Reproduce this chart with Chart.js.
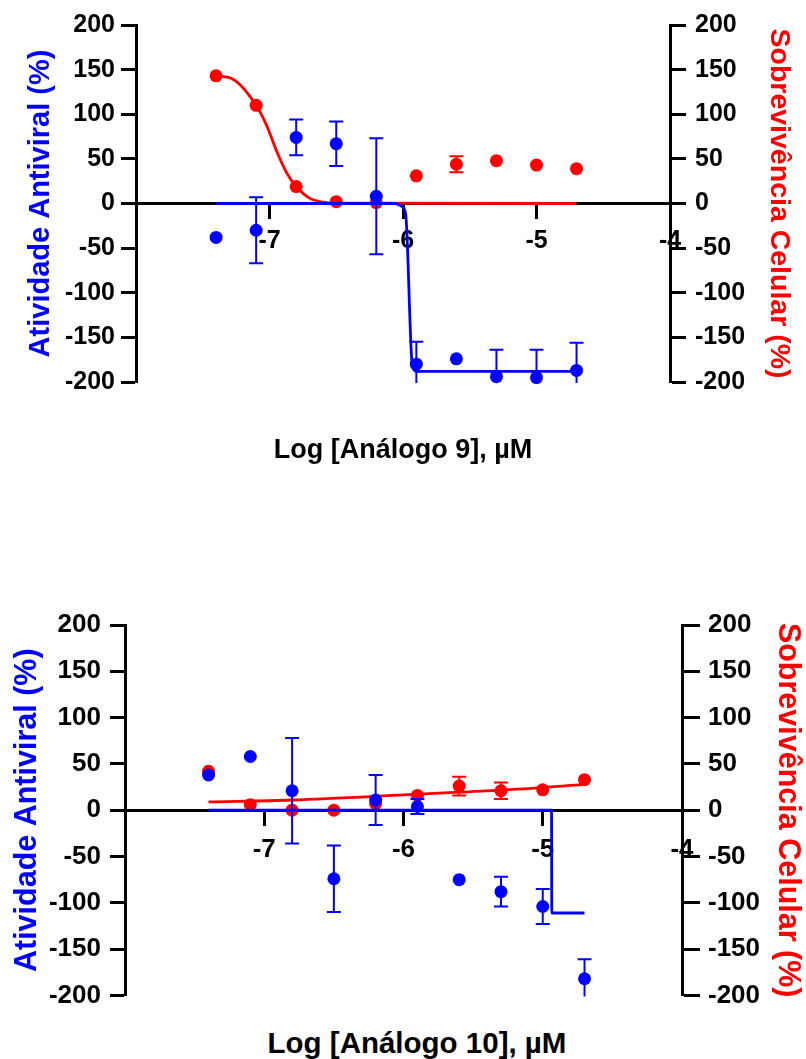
<!DOCTYPE html>
<html>
<head>
<meta charset="utf-8">
<script src="https://cdn.jsdelivr.net/npm/chart.js@4"></script>
<style>
body { margin: 0; background: #fff; width: 806px; height: 1059px; position: relative; overflow: hidden; font-family: "Liberation Sans", Arial, sans-serif; }
canvas { position: absolute; left: 0; }
#chart9 { top: 0; }
#chart10 { top: 590px; }
.xtitle { position: absolute; font-weight: bold; white-space: nowrap; transform: translate(-50%, -50%); color: #000; }
</style>
</head>
<body>
<canvas id="chart9" width="806" height="490"></canvas>
<canvas id="chart10" width="806" height="430"></canvas>
<div class="xtitle" style="left:403px;top:449px;font-size:27px">Log [Análogo 9], µM</div>
<div class="xtitle" style="left:417px;top:1043px;font-size:29.5px">Log [Análogo 10], µM</div>
<script>
const BLUE = "#0000ff";
const RED = "#ff0000";

// log concentrations (M) of the 2-fold dilution series
const logConc = [-7.4, -7.1, -6.8, -6.5, -6.2, -5.9, -5.6, -5.3, -5.0, -4.7];
const xTickValues = [-8, -7, -6, -5, -4];
const yTickValues = [-200, -150, -100, -50, 0, 50, 100, 150, 200];

// Análogo 9
const antiviral9 = [-38, -30, 74, 67, 8, -180, -174, -194, -195, -187];
const antiviralErr9 = [0, 37, 20, 25, 65, 25, 0, 30, 31, 31];
const survival9 = [143, 110, 19, 2, 1, 31, 44, 48, 43, 39];
const survivalErr9 = [0, 0, 0, 0, 0, 0, 9, 0, 0, 0];
const antiviralFitX9 = [-7.4, -6.06, -6.01, -5.98, -5.93, -5.90, -4.7];
const antiviralFitY9 = [0, 0, -3, -12, -182, -188, -188];
const survivalFitX9 = [-7.4, -7.27, -7.1, -7.02, -6.95, -6.87, -6.8, -6.7, -6.6, -6.5, -4.7];
const survivalFitY9 = [143, 139, 110, 87, 60, 34, 19, 6, 1.5, 0.5, 0];

// Análogo 10
const antiviral10 = [38, 58, 21, -74, 11, 4, -75, -88, -104, -182];
const antiviralErr10 = [0, 0, 57, 36, 27, 8, 0, 16, 19, 21];
const survival10 = [42, 6, 0, 0, 7, 16, 26, 21, 22, 33];
const survivalErr10 = [0, 0, 0, 0, 0, 0, 10, 9, 0, 0];
const antiviralFitX10 = [-7.4, -4.937, -4.935, -4.7];
const antiviralFitY10 = [0, 0, -111, -111];
const survivalFitX10 = [-7.4, -6.8, -6.0, -5.6, -5.0, -4.7];
const survivalFitY10 = [9, 11, 16.5, 19.5, 24.4, 28];

Chart.defaults.font.family = "'Liberation Sans', Arial, sans-serif";
Chart.defaults.font.weight = "bold";
Chart.defaults.color = "#000";

const toPoints = (xs, ys) => xs.map((x, i) => ({ x: x, y: ys[i] }));

const errorBars = {
    id: "errorBars",
    afterDatasetDraw(chart, args) {
        const ds = chart.data.datasets[args.index];
        if (!ds.errors) return;
        const ctx = chart.ctx;
        const area = chart.chartArea;
        const yScale = chart.scales[ds.yAxisID];
        ctx.save();
        ctx.beginPath();
        ctx.rect(area.left, area.top - 2, area.right - area.left, area.bottom - area.top + 3);
        ctx.clip();
        ctx.strokeStyle = ds.pointBackgroundColor;
        ctx.lineWidth = 2;
        ds.data.forEach((p, i) => {
            const e = ds.errors[i];
            if (!e) return;
            const x = chart.scales.x.getPixelForValue(p.x);
            const yTop = yScale.getPixelForValue(p.y + e);
            const yBot = yScale.getPixelForValue(p.y - e);
            ctx.beginPath();
            ctx.moveTo(x, yTop); ctx.lineTo(x, yBot);
            ctx.moveTo(x - 7, yTop); ctx.lineTo(x + 7, yTop);
            ctx.moveTo(x - 7, yBot); ctx.lineTo(x + 7, yBot);
            ctx.stroke();
        });
        ctx.restore();
    }
};

function makeChart(id, s) {
    const ctx = document.getElementById(id).getContext("2d");
    const tickFont = { size: s.tickSize, weight: "bold" };
    const yTicks = (scale) => { scale.ticks = yTickValues.map(v => ({ value: v })); };

    return new Chart(ctx, {
        type: "scatter",
        data: {
            datasets: [
                {
                    data: toPoints(logConc, s.antiviral), errors: s.antiviralErr, yAxisID: "y",
                    pointRadius: 6.5, pointBackgroundColor: BLUE, pointBorderWidth: 0, showLine: false, clip: false
                },
                {
                    data: toPoints(s.antiviralFitX, s.antiviralFitY), yAxisID: "y",
                    showLine: true, borderColor: BLUE, borderWidth: 2.8, pointRadius: 0,
                    cubicInterpolationMode: "monotone", tension: 0.4, clip: false
                },
                {
                    data: toPoints(logConc, s.survival), errors: s.survivalErr, yAxisID: "y2",
                    pointRadius: 6.5, pointBackgroundColor: RED, pointBorderWidth: 0, showLine: false, clip: false
                },
                {
                    data: toPoints(s.survivalFitX, s.survivalFitY), yAxisID: "y2",
                    showLine: true, borderColor: RED, borderWidth: 2.8, pointRadius: 0,
                    cubicInterpolationMode: "monotone", tension: 0.4, clip: false
                }
            ]
        },
        options: {
            responsive: false,
            animation: false,
            devicePixelRatio: 1,
            layout: { padding: s.padding },
            plugins: { legend: { display: false }, tooltip: { enabled: false } },
            scales: {
                x: {
                    type: "linear", min: -8, max: -4,
                    position: { y: 0 },
                    afterBuildTicks: (scale) => { scale.ticks = xTickValues.map(v => ({ value: v })); },
                    ticks: { font: tickFont, padding: s.xPad, maxRotation: 0, callback: v => v === -8 ? "" : v },
                    grid: { drawOnChartArea: false, tickLength: 14, tickWidth: 3, color: "#000" },
                    border: { color: "#000", width: 3 }
                },
                y: {
                    type: "linear", position: "left", min: -200, max: 200,
                    afterBuildTicks: yTicks,
                    afterFit: (scale) => { scale.width = s.leftW; },
                    ticks: { font: tickFont, padding: s.leftPad },
                    grid: { drawOnChartArea: false, tickLength: s.leftTick, tickWidth: 3, color: "#000" },
                    border: { color: "#000", width: 3 },
                    title: {
                        display: true, text: "Atividade Antiviral (%)", color: BLUE,
                        font: { size: s.leftTitleSize, weight: "bold" }, padding: { top: s.leftTitlePad, bottom: 0 }
                    }
                },
                y2: {
                    type: "linear", position: "right", min: -200, max: 200,
                    afterBuildTicks: yTicks,
                    afterFit: (scale) => { scale.width = s.rightW; },
                    ticks: { font: tickFont, padding: s.rightPad },
                    grid: { drawOnChartArea: false, tickLength: s.rightTick, tickWidth: 3, color: "#000" },
                    border: { color: "#000", width: 3 },
                    title: {
                        display: true, text: "Sobrevivência Celular (%)", color: RED,
                        font: { size: s.rightTitleSize, weight: "bold" }, padding: { top: s.rightTitlePad, bottom: 0 }
                    }
                }
            }
        },
        plugins: [errorBars]
    });
}

makeChart("chart9", {
    antiviral: antiviral9, antiviralErr: antiviralErr9, survival: survival9, survivalErr: survivalErr9,
    antiviralFitX: antiviralFitX9, antiviralFitY: antiviralFitY9, survivalFitX: survivalFitX9, survivalFitY: survivalFitY9,
    padding: { top: 25, bottom: 108, left: 0, right: 0 },
    leftW: 136, rightW: 136, tickSize: 25, leftTitleSize: 29, rightTitleSize: 28.5,
    leftTick: 15, rightTick: 16, leftPad: 6, rightPad: 9, xPad: 9,
    leftTitlePad: 24, rightTitlePad: 10
});

makeChart("chart10", {
    antiviral: antiviral10, antiviralErr: antiviralErr10, survival: survival10, survivalErr: survivalErr10,
    antiviralFitX: antiviralFitX10, antiviralFitY: antiviralFitY10, survivalFitX: survivalFitX10, survivalFitY: survivalFitY10,
    padding: { top: 35, bottom: 22, left: 0, right: 0 },
    leftW: 125, rightW: 124, tickSize: 26, leftTitleSize: 30.5, rightTitleSize: 30.5,
    leftTick: 15, rightTick: 18, leftPad: 9, rightPad: 8, xPad: 10,
    leftTitlePad: 9, rightTitlePad: 0
});
</script>
</body>
</html>
